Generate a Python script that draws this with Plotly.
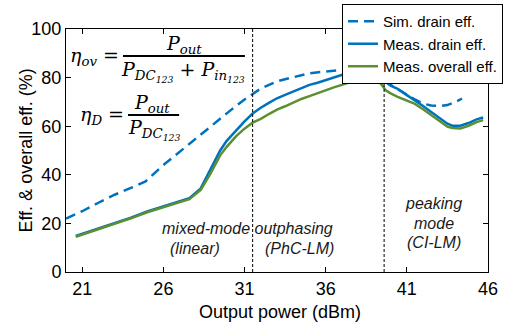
import plotly.graph_objects as go

# ---------------- data ----------------
sim_x = [20, 21, 22, 23, 24, 24.9, 26, 27, 28, 29, 30, 31, 31.5, 32, 33, 34, 35, 36, 37, 38, 38.7,
         39.1, 39.5, 40, 40.4, 41, 41.5, 42, 42.5, 43, 43.5, 44, 44.4]
sim_drain = [22, 25, 28.5, 31.8, 34.6, 37.3, 44, 49.5, 54.8, 60.5, 65.8, 71, 73.3, 75.5, 78.5, 80.3, 81.8, 82.5, 83.2, 83.8, 84.2,
             82.8, 79.5, 77, 75.5, 73, 71, 69.3, 68.5, 68.3, 68.7, 70, 71.4]

meas_x = [20.6, 21, 22, 23, 24, 25, 26, 27, 27.6, 28.3, 28.9, 29.5, 29.9, 30.5, 31, 31.5, 32, 32.5, 33, 33.5,
          34, 34.5, 35, 35.5, 36, 36.5, 37, 37.5, 38, 38.5, 38.8, 39.1, 39.4, 39.7, 40, 40.4, 41, 41.5, 42,
          42.5, 43, 43.5, 43.8, 44.3, 44.8, 45.3, 45.7]
meas_drain = [14.8, 15.7, 17.8, 20.0, 22.4, 24.9, 27.0, 29.0, 30.4, 34.4, 42, 50, 54.0, 58.5, 62, 65.2, 67.6, 69.6, 71.5, 72.9,
              74.3, 75.8, 77.0, 77.9, 79.0, 80.0, 81.3, 82.2, 82.8, 83.6, 83.7, 82.7, 80.5, 78.2, 76.7, 75.5, 72.8, 70.6, 68.3,
              65.8, 63.3, 61.0, 60.2, 60.2, 61.3, 62.8, 63.6]
meas_overall = [14.5, 15.4, 17.5, 19.7, 22.1, 24.6, 26.7, 28.7, 30.0, 33.8, 40.5, 48, 51.5, 56, 59, 61.5, 63, 65, 66.8, 68.2,
                69.8, 71.2, 72.4, 73.6, 75.0, 76.0, 77.0, 78.2, 79.2, 79.9, 79.9, 79.2, 77.5, 74.8, 73.5, 72.2, 70.7, 69.2, 67.0,
                64.5, 62.0, 59.8, 59.3, 59.1, 60.2, 61.7, 62.5]

mode_boundaries = [31.5, 39.6]
x_ticks = [21, 26, 31, 36, 41, 46]
y_ticks = [0, 20, 40, 60, 80, 100]

BLUE = "#0072BD"
GREEN = "#5A8F32"
SANS = "Liberation Sans, Arial, sans-serif"
SERIF = "DejaVu Serif, serif"

fig = go.Figure()
fig.add_trace(go.Scatter(x=sim_x, y=sim_drain, mode="lines", name="Sim. drain eff.",
                         line=dict(color=BLUE, width=2.5, dash="10px,6px")))
fig.add_trace(go.Scatter(x=meas_x, y=meas_drain, mode="lines", name="Meas. drain eff.",
                         line=dict(color=BLUE, width=2.5)))
fig.add_trace(go.Scatter(x=meas_x, y=meas_overall, mode="lines", name="Meas. overall eff.",
                         line=dict(color=GREEN, width=2.5)))

for xb in mode_boundaries:
    fig.add_vline(x=xb, line=dict(color="black", width=1, dash="3px,2px"))

# region labels
region_labels = [
    (31.2, 18.0, "mixed-mode outphasing"),
    (27.95, 9.8, "(linear)"),
    (34.36, 9.8, "(PhC-LM)"),
    (42.67, 28.3, "peaking"),
    (42.67, 20.1, "mode"),
    (42.67, 12.2, "(CI-LM)"),
]
for lx, ly, lt in region_labels:
    fig.add_annotation(x=lx, y=ly, text=f"<i>{lt}</i>", showarrow=False,
                       font=dict(family=SANS, size=16, color="#1a1a1a"), xanchor="center", yanchor="middle")

# equations (paper coordinates)
eqs = [
    (0.0687, 0.885, "<i>η<sub>ov</sub></i> =", 19),
    (0.2796, 0.938, "<i>P<sub>out</sub></i>", 19),
    (0.277, 0.827, "<i>P<sub>DC<sub>123</sub></sub></i> + <i>P<sub>in<sub>123</sub></sub></i>", 19),
    (0.085, 0.646, "<i>η<sub>D</sub></i> =", 19),
    (0.203, 0.695, "<i>P<sub>out</sub></i>", 19),
    (0.208, 0.588, "<i>P<sub>DC<sub>123</sub></sub></i>", 19),
]
for ex, ey, et, es in eqs:
    fig.add_annotation(x=ex, y=ey, xref="paper", yref="paper", text=et, showarrow=False,
                       font=dict(family=SERIF, size=es, color="black"), xanchor="center", yanchor="middle")
for x0, x1, yy in [(0.135, 0.424, 0.889), (0.147, 0.268, 0.646)]:
    fig.add_shape(type="line", xref="paper", yref="paper", x0=x0, x1=x1, y0=yy, y1=yy,
                  line=dict(color="black", width=2))

# axis titles as annotations for exact placement
fig.add_annotation(x=0.507, y=-0.163, xref="paper", yref="paper", text="Output power (dBm)",
                   showarrow=False, font=dict(family=SANS, size=18, color="black"),
                   xanchor="center", yanchor="middle")
fig.add_annotation(x=-0.097, y=0.5, xref="paper", yref="paper", text="Eff. & overall eff. (%)",
                   showarrow=False, textangle=-90, font=dict(family=SANS, size=18, color="black"),
                   xanchor="center", yanchor="middle")

axis_common = dict(showline=True, linecolor="black", linewidth=1, mirror="ticks", ticks="inside",
                   ticklen=5, tickcolor="black", showgrid=False, zeroline=False,
                   tickfont=dict(family=SANS, size=18, color="black"))
fig.update_xaxes(range=[20, 46], tickvals=x_ticks, **axis_common)
fig.update_yaxes(range=[0, 100], tickvals=y_ticks, **axis_common)

fig.update_layout(
    width=511, height=327,
    margin=dict(l=66, r=23, t=29, b=55, autoexpand=False),
    paper_bgcolor="white", plot_bgcolor="white",
    legend=dict(x=0.654, y=1.103, xanchor="left", yanchor="top", bgcolor="white",
                bordercolor="black", borderwidth=1, font=dict(family=SANS, size=15, color="black"),
                tracegroupgap=0, itemwidth=30),
    showlegend=True,
)

fig.write_html("out.html")
